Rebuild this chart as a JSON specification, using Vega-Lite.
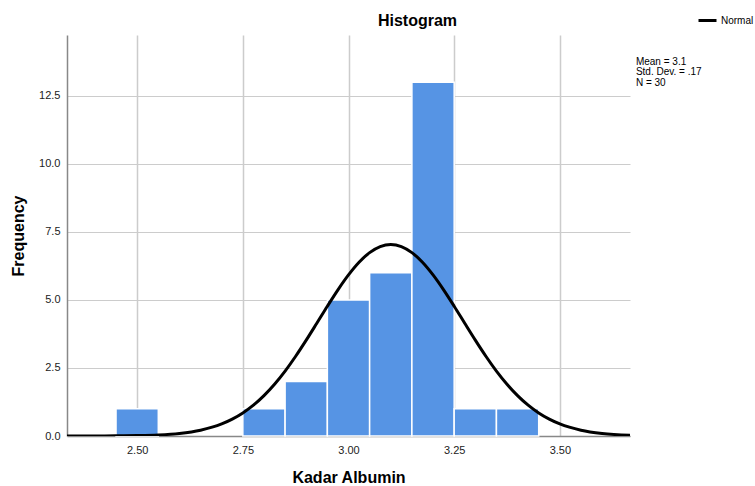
{
  "$schema": "https://vega.github.io/schema/vega-lite/v6.json",
  "width": 563,
  "height": 401,
  "autosize": {"type": "none"},
  "padding": {"left": 67, "top": 35, "right": 125, "bottom": 50},
  "background": "white",
  "config": {
    "view": {"stroke": null},
    "font": "Liberation Sans",
    "axis": {"labelFont": "Liberation Sans", "titleFont": "Liberation Sans"}
  },
  "title": {
    "text": "Histogram",
    "anchor": "middle",
    "frame": "group",
    "dx": 69,
    "offset": -19,
    "fontSize": 16,
    "fontWeight": "bold",
    "color": "#000000",
    "font": "Liberation Sans"
  },
  "datasets": {
    "bins": [
      {"lo": 2.45, "hi": 2.55, "count": 1},
      {"lo": 2.75, "hi": 2.85, "count": 1},
      {"lo": 2.85, "hi": 2.95, "count": 2},
      {"lo": 2.95, "hi": 3.05, "count": 5},
      {"lo": 3.05, "hi": 3.15, "count": 6},
      {"lo": 3.15, "hi": 3.25, "count": 13},
      {"lo": 3.25, "hi": 3.35, "count": 1},
      {"lo": 3.35, "hi": 3.45, "count": 1}
    ],
    "curve": [
      {"x": 2.334, "y": 0.0003, "s": "Normal"},
      {"x": 2.40, "y": 0.0015, "s": "Normal"},
      {"x": 2.45, "y": 0.0047, "s": "Normal"},
      {"x": 2.50, "y": 0.0139, "s": "Normal"},
      {"x": 2.55, "y": 0.0376, "s": "Normal"},
      {"x": 2.60, "y": 0.093, "s": "Normal"},
      {"x": 2.65, "y": 0.212, "s": "Normal"},
      {"x": 2.70, "y": 0.442, "s": "Normal"},
      {"x": 2.725, "y": 0.618, "s": "Normal"},
      {"x": 2.75, "y": 0.846, "s": "Normal"},
      {"x": 2.775, "y": 1.132, "s": "Normal"},
      {"x": 2.80, "y": 1.484, "s": "Normal"},
      {"x": 2.825, "y": 1.903, "s": "Normal"},
      {"x": 2.85, "y": 2.387, "s": "Normal"},
      {"x": 2.875, "y": 2.932, "s": "Normal"},
      {"x": 2.90, "y": 3.524, "s": "Normal"},
      {"x": 2.925, "y": 4.144, "s": "Normal"},
      {"x": 2.95, "y": 4.771, "s": "Normal"},
      {"x": 2.975, "y": 5.373, "s": "Normal"},
      {"x": 3.00, "y": 5.921, "s": "Normal"},
      {"x": 3.025, "y": 6.387, "s": "Normal"},
      {"x": 3.05, "y": 6.742, "s": "Normal"},
      {"x": 3.075, "y": 6.964, "s": "Normal"},
      {"x": 3.10, "y": 7.04, "s": "Normal"},
      {"x": 3.125, "y": 6.964, "s": "Normal"},
      {"x": 3.15, "y": 6.742, "s": "Normal"},
      {"x": 3.175, "y": 6.387, "s": "Normal"},
      {"x": 3.20, "y": 5.921, "s": "Normal"},
      {"x": 3.225, "y": 5.373, "s": "Normal"},
      {"x": 3.25, "y": 4.771, "s": "Normal"},
      {"x": 3.275, "y": 4.144, "s": "Normal"},
      {"x": 3.30, "y": 3.524, "s": "Normal"},
      {"x": 3.325, "y": 2.932, "s": "Normal"},
      {"x": 3.35, "y": 2.387, "s": "Normal"},
      {"x": 3.375, "y": 1.903, "s": "Normal"},
      {"x": 3.40, "y": 1.484, "s": "Normal"},
      {"x": 3.425, "y": 1.132, "s": "Normal"},
      {"x": 3.45, "y": 0.846, "s": "Normal"},
      {"x": 3.475, "y": 0.618, "s": "Normal"},
      {"x": 3.50, "y": 0.442, "s": "Normal"},
      {"x": 3.55, "y": 0.212, "s": "Normal"},
      {"x": 3.60, "y": 0.093, "s": "Normal"},
      {"x": 3.666, "y": 0.0275, "s": "Normal"}
    ],
    "stats": [
      {"x": 3.68, "y": 13.75, "t": "Mean = 3.1"},
      {"x": 3.68, "y": 13.37, "t": "Std. Dev. = .17"},
      {"x": 3.68, "y": 12.98, "t": "N = 30"}
    ]
  },
  "layer": [
    {
      "data": {"name": "bins"},
      "mark": {"type": "rect", "fill": "#5694E4", "stroke": "#ffffff", "strokeWidth": 1.5},
      "encoding": {
        "x": {
          "field": "lo", "type": "quantitative",
          "scale": {"domain": [2.334, 3.666], "nice": false, "zero": false},
          "axis": {
            "values": [2.5, 2.75, 3.0, 3.25, 3.5],
            "format": ".2f",
            "title": "Kadar Albumin",
            "titleFontSize": 16, "titleFontWeight": "bold", "titleColor": "#000000",
            "titlePadding": 14,
            "labelFontSize": 11, "labelColor": "#222222", "labelPadding": 8,
            "ticks": false,
            "domainColor": "#888888", "domainWidth": 1.5,
            "grid": true, "gridColor": "#cccccc", "gridWidth": 1.5
          }
        },
        "x2": {"field": "hi"},
        "y": {
          "field": "count", "type": "quantitative",
          "scale": {"domain": [0, 14.74], "nice": false},
          "axis": {
            "values": [0, 2.5, 5, 7.5, 10, 12.5],
            "format": ".1f",
            "title": "Frequency",
            "titleFontSize": 16, "titleFontWeight": "bold", "titleColor": "#000000",
            "titlePadding": 12,
            "labelFontSize": 11, "labelColor": "#222222", "labelPadding": 7,
            "ticks": false,
            "domainColor": "#888888", "domainWidth": 1.5,
            "grid": true, "gridColor": "#cccccc", "gridWidth": 1
          }
        },
        "y2": {"datum": 0}
      }
    },
    {
      "data": {"name": "curve"},
      "mark": {"type": "line", "strokeWidth": 3, "interpolate": "monotone", "clip": true},
      "encoding": {
        "x": {"field": "x", "type": "quantitative"},
        "y": {"field": "y", "type": "quantitative"},
        "color": {
          "field": "s", "type": "nominal",
          "scale": {"domain": ["Normal"], "range": ["#000000"]},
          "legend": {
            "title": null,
            "orient": "none",
            "legendX": 630,
            "legendY": -25,
            "padding": 0,
            "symbolType": "stroke",
            "symbolSize": 324,
            "symbolStrokeWidth": 3,
            "labelFontSize": 10,
            "labelColor": "#000000",
            "labelFont": "Liberation Sans",
            "labelOffset": 3
          }
        }
      }
    },
    {
      "data": {"name": "stats"},
      "mark": {"type": "text", "align": "left", "baseline": "middle", "fontSize": 10, "font": "Liberation Sans", "color": "#000000", "clip": false},
      "encoding": {
        "x": {"field": "x", "type": "quantitative"},
        "y": {"field": "y", "type": "quantitative"},
        "text": {"field": "t"}
      }
    }
  ]
}
